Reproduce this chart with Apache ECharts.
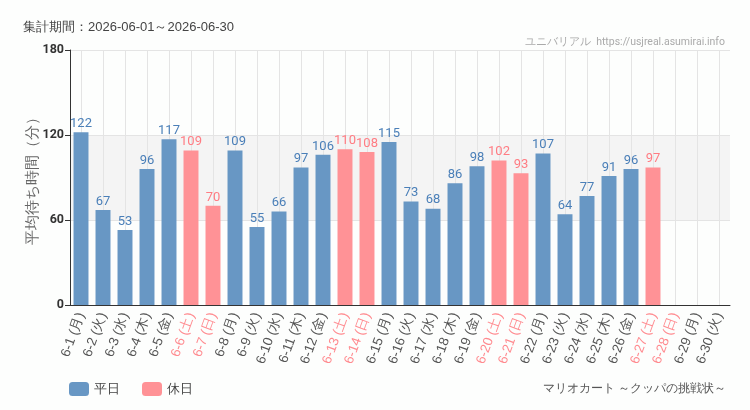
<!DOCTYPE html>
<html>
<head>
<meta charset="utf-8">
<script src="https://cdn.jsdelivr.net/npm/echarts@6/dist/echarts.min.js"></script>
<style>
  html, body { margin: 0; padding: 0; background: #fdfefd; }
  #main { width: 750px; height: 410px; }
</style>
</head>
<body>
<div id="main"></div>
<script>
// 日付・曜日
var days = ['6-1','6-2','6-3','6-4','6-5','6-6','6-7','6-8','6-9','6-10','6-11','6-12','6-13','6-14','6-15',
            '6-16','6-17','6-18','6-19','6-20','6-21','6-22','6-23','6-24','6-25','6-26','6-27','6-28','6-29','6-30'];
var weekdays = ['月','火','水','木','金','土','日','月','火','水','木','金','土','日','月',
                '火','水','木','金','土','日','月','火','水','木','金','土','日','月','火'];
var holiday = [0,0,0,0,0,1,1,0,0,0,0,0,1,1,0,0,0,0,0,1,1,0,0,0,0,0,1,1,0,0];
// 平均待ち時間（分）
var waits = [122,67,53,96,117,109,70,109,55,66,97,106,110,108,115,
             73,68,86,98,102,93,107,64,77,91,96,97,null,null,null];

var blue = '#6897c4', pink = '#ff9296';
var narrow = "Roboto,sans-serif";

var cats = days.map(function (d, i) {
  return {
    value: d + ' (' + weekdays[i] + ')',
    textStyle: { color: holiday[i] ? '#ff8a8f' : '#555' }
  };
});
var heijitsu = waits.map(function (v, i) { return holiday[i] ? null : v; });
var kyujitsu = waits.map(function (v, i) { return holiday[i] ? v : null; });

var myChart = echarts.init(document.getElementById('main'));
var option = {
  backgroundColor: '#fdfefd',
  animation: false,
  title: [
    { text: '集計期間：2026-06-01～2026-06-30', left: 18, top: 16,
      textStyle: { fontSize: 13, fontWeight: 'normal', color: '#444' } },
    { text: 'ユニバリアル  https://usjreal.asumirai.info', right: 20, top: 32,
      textStyle: { fontSize: 10.5, fontWeight: 'normal', color: '#aaa', fontFamily: narrow } },
    { text: 'マリオカート ～クッパの挑戦状～', right: 19, top: 378,
      textStyle: { fontSize: 11.5, fontWeight: 'normal', color: '#555' } }
  ],
  legend: {
    left: 64, top: 377, itemWidth: 20, itemHeight: 14, itemGap: 22,
    textStyle: { fontSize: 13, color: '#444' },
    data: ['平日', '休日']
  },
  grid: { left: 70, right: 20, top: 50, bottom: 105 },
  xAxis: {
    type: 'category',
    data: cats,
    axisLine: { lineStyle: { color: '#333' } },
    axisTick: { alignWithLabel: true, length: 5, lineStyle: { color: '#333' } },
    axisLabel: { rotate: 70, interval: 0, fontSize: 13.5, margin: 8 },
    splitLine: { show: true, alignWithLabel: true, lineStyle: { color: '#e4e4e4' } }
  },
  yAxis: {
    type: 'value',
    min: 0, max: 180, interval: 60,
    name: '平均待ち時間（分）',
    nameLocation: 'middle',
    nameGap: 30,
    nameMoveOverlap: false,
    nameTextStyle: { fontSize: 15, color: '#666' },
    axisLine: { show: true, lineStyle: { color: '#333' } },
    axisTick: { show: true, length: 5, lineStyle: { color: '#333' } },
    axisLabel: { fontSize: 12.5, color: '#333', fontWeight: 'bold', fontFamily: narrow, margin: 6 },
    splitLine: { lineStyle: { color: '#e4e4e4' } },
    splitArea: { show: true, areaStyle: { color: ['rgba(0,0,0,0)', '#f4f4f4', 'rgba(0,0,0,0)'] } }
  },
  series: [
    {
      name: '平日', type: 'bar', stack: 'w', barWidth: '68%',
      data: heijitsu,
      itemStyle: { color: blue },
      label: { show: true, position: 'top', distance: 2, color: '#4a7fb8',
               fontSize: 13, fontFamily: narrow }
    },
    {
      name: '休日', type: 'bar', stack: 'w', barWidth: '68%',
      data: kyujitsu,
      itemStyle: { color: pink },
      label: { show: true, position: 'top', distance: 2, color: '#ff7c83',
               fontSize: 13, fontFamily: narrow }
    }
  ]
};
myChart.setOption(option);
</script>
</body>
</html>
